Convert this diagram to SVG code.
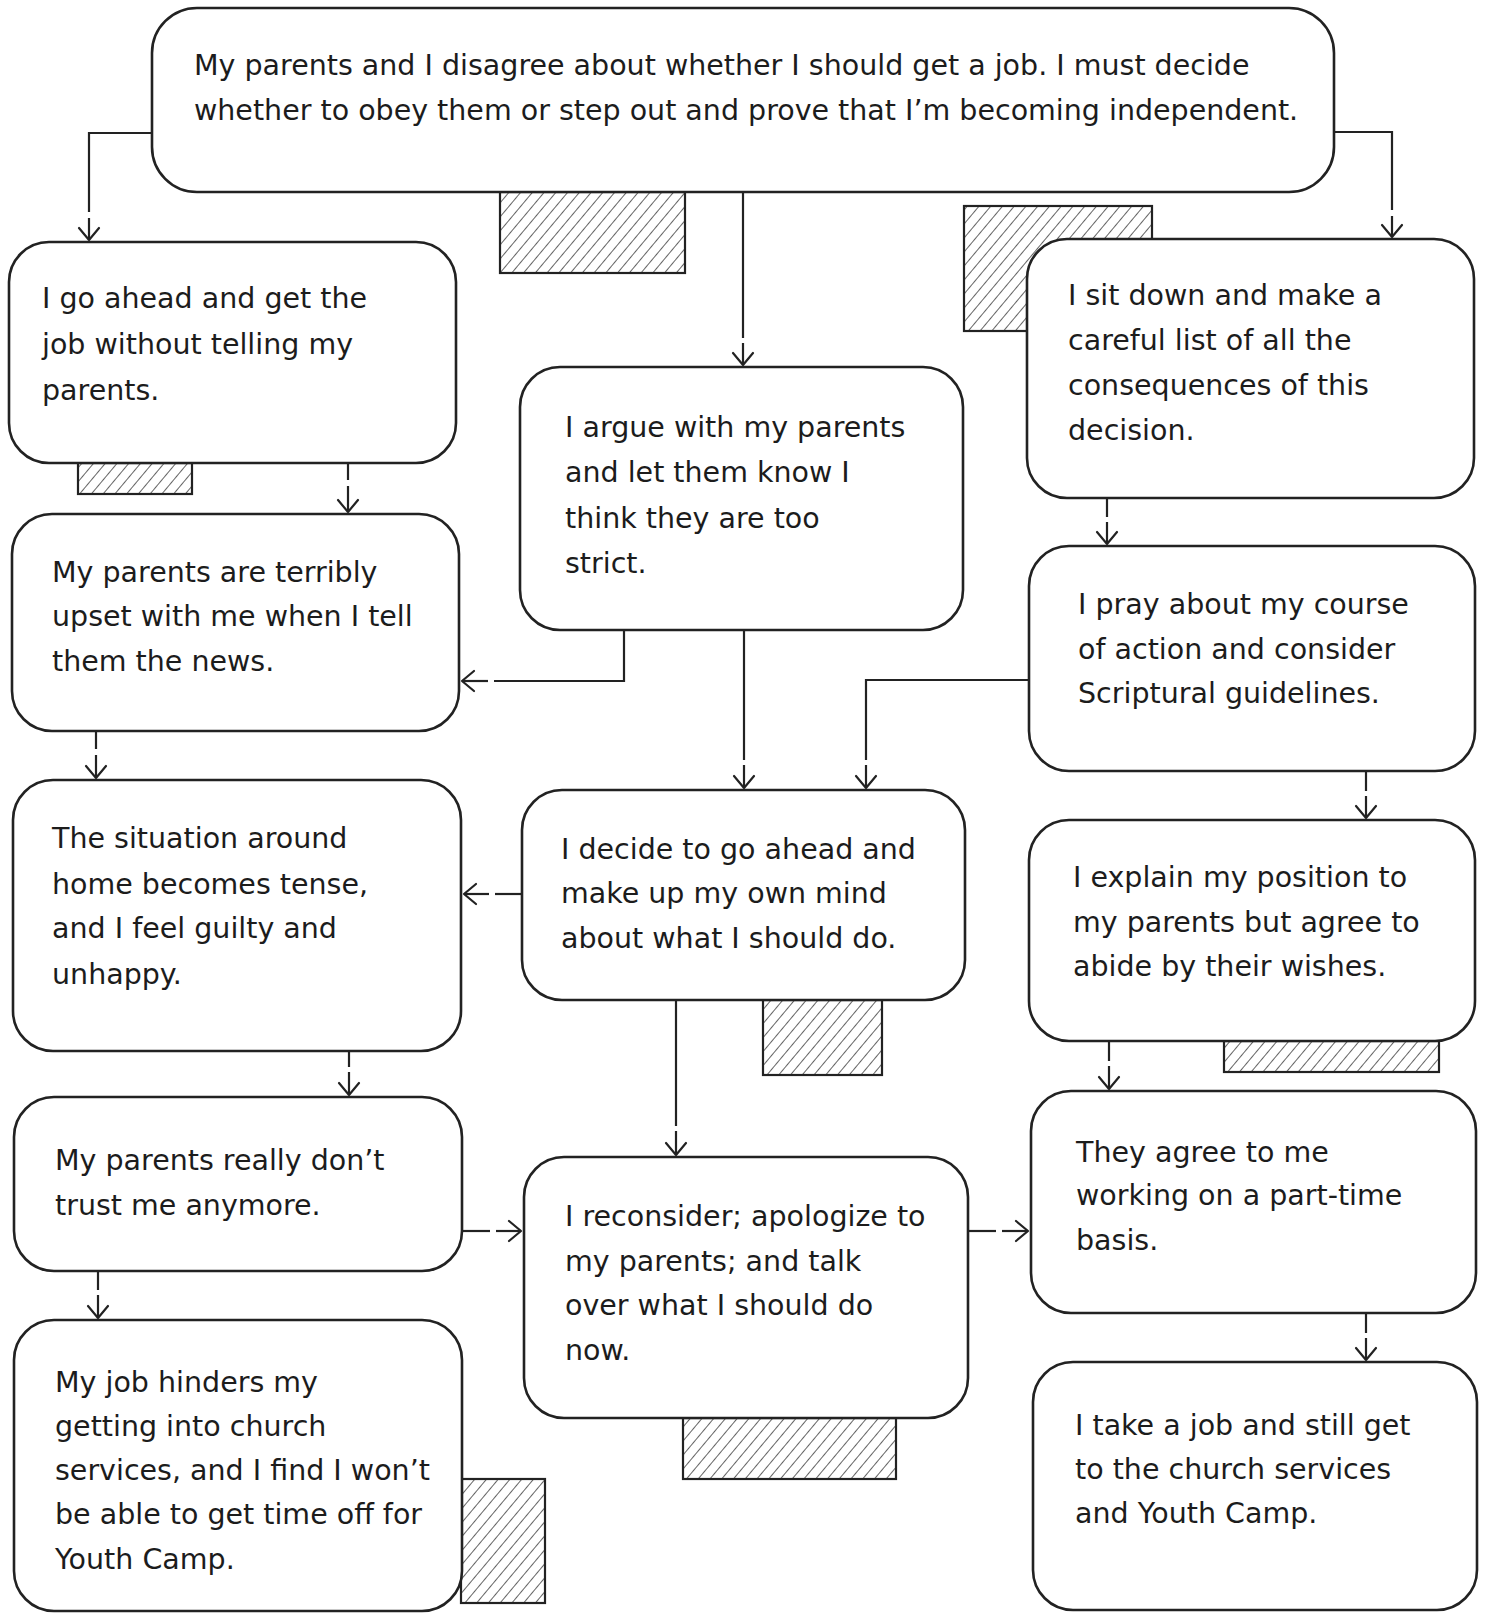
<svg xmlns="http://www.w3.org/2000/svg" width="1486" height="1614" viewBox="0 0 1486 1614">
<defs>
<pattern id="hatch" patternUnits="userSpaceOnUse" width="9" height="9" patternTransform="rotate(40)">
<line x1="0" y1="0" x2="0" y2="9" stroke="#222" stroke-width="1.4"/>
</pattern>
<marker id="ah" markerUnits="userSpaceOnUse" markerWidth="30" markerHeight="30" refX="0" refY="0" viewBox="-15 -15 30 30" orient="auto" overflow="visible">
<path d="M-12,-10 L0,0 L-12,10" fill="none" stroke="#222" stroke-width="2.2" stroke-linecap="round" stroke-linejoin="round"/>
</marker>
<style>
.box{fill:#fff;stroke:#222;stroke-width:2.6}
.hat{fill:url(#hatch);stroke:#222;stroke-width:2.2}
.ln{fill:none;stroke:#222;stroke-width:2.2}
.ar{fill:none;stroke:#222;stroke-width:2.2;marker-end:url(#ah)}
.t{font-family:"DejaVu Sans","Liberation Sans",sans-serif;font-size:28.5px;fill:#1c1c1c}
</style>
</defs>
<rect width="1486" height="1614" fill="#fff"/>

<g id="hatches">
<rect class="hat" x="500" y="192" width="185" height="81"/>
<rect class="hat" x="964" y="206" width="188" height="125"/>
<rect class="hat" x="78" y="463" width="114" height="31"/>
<rect class="hat" x="763" y="1000" width="119" height="75"/>
<rect class="hat" x="1224" y="1041" width="215" height="31"/>
<rect class="hat" x="683" y="1418" width="213" height="61"/>
<rect class="hat" x="461" y="1479" width="84" height="124"/>
</g>

<g id="connectors">
<path class="ln" d="M152,133 H89 V212"/><path class="ar" d="M89,218 V240"/>
<path class="ln" d="M1334,132 H1392 V210"/><path class="ar" d="M1392,216 V237"/>
<path class="ln" d="M743,192 V338"/><path class="ar" d="M743,343 V365"/>
<path class="ln" d="M348,463 V480"/><path class="ar" d="M348,486 V512"/>
<path class="ln" d="M624,630 V681 H494"/><path class="ar" d="M488,681 H462"/>
<path class="ln" d="M96,731 V749"/><path class="ar" d="M96,755 V778"/>
<path class="ln" d="M744,630 V760"/><path class="ar" d="M744,765 V788"/>
<path class="ln" d="M1029,680 H866 V760"/><path class="ar" d="M866,765 V788"/>
<path class="ln" d="M1107,498 V517"/><path class="ar" d="M1107,522 V544"/>
<path class="ln" d="M1366,771 V791"/><path class="ar" d="M1366,796 V818"/>
<path class="ln" d="M522,894 H495"/><path class="ar" d="M489,894 H464"/>
<path class="ln" d="M676,1000 V1126"/><path class="ar" d="M676,1131 V1155"/>
<path class="ln" d="M349,1051 V1067"/><path class="ar" d="M349,1072 V1095"/>
<path class="ln" d="M462,1231 H490"/><path class="ar" d="M496,1231 H521"/>
<path class="ln" d="M98,1271 V1290"/><path class="ar" d="M98,1295 V1318"/>
<path class="ln" d="M968,1231 H996"/><path class="ar" d="M1002,1231 H1028"/>
<path class="ln" d="M1109,1041 V1061"/><path class="ar" d="M1109,1066 V1089"/>
<path class="ln" d="M1366,1313 V1333"/><path class="ar" d="M1366,1338 V1360"/>
</g>

<g id="n-top">
<rect class="box" x="152" y="8" width="1182" height="184" rx="45"/>
<text class="t"><tspan x="194" y="75">My parents and I disagree about whether I should get a job. I must decide</tspan><tspan x="194" y="120">whether to obey them or step out and prove that I’m becoming independent.</tspan></text>
</g>
<g id="n-a">
<rect class="box" x="9" y="242" width="447" height="221" rx="40"/>
<text class="t"><tspan x="42" y="308">I go ahead and get the</tspan><tspan x="42" y="354">job without telling my</tspan><tspan x="42" y="400">parents.</tspan></text>
</g>
<g id="n-b">
<rect class="box" x="12" y="514" width="447" height="217" rx="40"/>
<text class="t"><tspan x="52" y="582">My parents are terribly</tspan><tspan x="52" y="626">upset with me when I tell</tspan><tspan x="52" y="671">them the news.</tspan></text>
</g>
<g id="n-c">
<rect class="box" x="520" y="367" width="443" height="263" rx="40"/>
<text class="t"><tspan x="565" y="437">I argue with my parents</tspan><tspan x="565" y="482">and let them know I</tspan><tspan x="565" y="528">think they are too</tspan><tspan x="565" y="573">strict.</tspan></text>
</g>
<g id="n-d">
<rect class="box" x="1027" y="239" width="447" height="259" rx="40"/>
<text class="t"><tspan x="1068" y="305">I sit down and make a</tspan><tspan x="1068" y="350">careful list of all the</tspan><tspan x="1068" y="395">consequences of this</tspan><tspan x="1068" y="440">decision.</tspan></text>
</g>
<g id="n-e">
<rect class="box" x="1029" y="546" width="446" height="225" rx="40"/>
<text class="t"><tspan x="1078" y="614">I pray about my course</tspan><tspan x="1078" y="659">of action and consider</tspan><tspan x="1078" y="703">Scriptural guidelines.</tspan></text>
</g>
<g id="n-f">
<rect class="box" x="522" y="790" width="443" height="210" rx="40"/>
<text class="t"><tspan x="561" y="859">I decide to go ahead and</tspan><tspan x="561" y="903">make up my own mind</tspan><tspan x="561" y="948">about what I should do.</tspan></text>
</g>
<g id="n-g">
<rect class="box" x="13" y="780" width="448" height="271" rx="40"/>
<text class="t"><tspan x="52" y="848">The situation around</tspan><tspan x="52" y="894">home becomes tense,</tspan><tspan x="52" y="938">and I feel guilty and</tspan><tspan x="52" y="984">unhappy.</tspan></text>
</g>
<g id="n-h">
<rect class="box" x="1029" y="820" width="446" height="221" rx="40"/>
<text class="t"><tspan x="1073" y="887">I explain my position to</tspan><tspan x="1073" y="932">my parents but agree to</tspan><tspan x="1073" y="976">abide by their wishes.</tspan></text>
</g>
<g id="n-i">
<rect class="box" x="14" y="1097" width="448" height="174" rx="40"/>
<text class="t"><tspan x="55" y="1170">My parents really don’t</tspan><tspan x="55" y="1215">trust me anymore.</tspan></text>
</g>
<g id="n-j">
<rect class="box" x="524" y="1157" width="444" height="261" rx="40"/>
<text class="t"><tspan x="565" y="1226">I reconsider; apologize to</tspan><tspan x="565" y="1271">my parents; and talk</tspan><tspan x="565" y="1315">over what I should do</tspan><tspan x="565" y="1360">now.</tspan></text>
</g>
<g id="n-k">
<rect class="box" x="1031" y="1091" width="445" height="222" rx="40"/>
<text class="t"><tspan x="1076" y="1162">They agree to me</tspan><tspan x="1076" y="1205">working on a part-time</tspan><tspan x="1076" y="1250">basis.</tspan></text>
</g>
<g id="n-l">
<rect class="box" x="14" y="1320" width="448" height="291" rx="40"/>
<text class="t"><tspan x="55" y="1392">My job hinders my</tspan><tspan x="55" y="1436">getting into church</tspan><tspan x="55" y="1480">services, and I find I won’t</tspan><tspan x="55" y="1524">be able to get time off for</tspan><tspan x="55" y="1569">Youth Camp.</tspan></text>
</g>
<g id="n-m">
<rect class="box" x="1033" y="1362" width="444" height="248" rx="40"/>
<text class="t"><tspan x="1075" y="1435">I take a job and still get</tspan><tspan x="1075" y="1479">to the church services</tspan><tspan x="1075" y="1523">and Youth Camp.</tspan></text>
</g>
</svg>
